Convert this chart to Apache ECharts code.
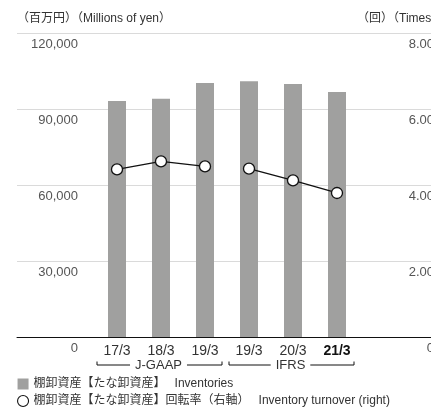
<!DOCTYPE html>
<html>
<head>
<meta charset="utf-8">
<script src="https://cdn.jsdelivr.net/npm/echarts@6/dist/echarts.min.js"></script>
<style>
  html, body { margin: 0; padding: 0; background: #fff; }
  #chart { width: 431px; height: 418px; }
</style>
</head>
<body>
<div id="chart"></div>
<script>
// data
var categories = ['17/3', '18/3', '19/3', '19/3', '20/3', '21/3'];
var inventories = [93200, 94000, 100300, 101000, 99900, 96700];   // 百万円
var turnover = [4.41, 4.62, 4.49, 4.43, 4.12, 3.79];               // 回
var standards = [
  { name: 'J-GAAP', from: 0, to: 2 },
  { name: 'IFRS', from: 3, to: 5 }
];
var leftTicks = { min: 0, max: 120000, interval: 30000 };
var rightTicks = { min: 0, max: 8, interval: 2 };

var barName = '棚卸資産【たな卸資産】';
var lineName = '棚卸資産【たな卸資産】回転率（右軸）';
var legendEn = {};
legendEn[barName] = 'Inventories';
legendEn[lineName] = 'Inventory turnover (right)';

var FONT = "'Liberation Sans', 'Noto Sans CJK JP', sans-serif";
var TOP = 33, HEIGHT = 304;

var chart = echarts.init(document.getElementById('chart'));

// split the turnover line where the accounting standard changes
var lineSeries = standards.map(function (g) {
  return {
    name: lineName,
    type: 'line',
    xAxisIndex: 0,
    yAxisIndex: 1,
    symbol: 'circle',
    symbolSize: 11,
    z: 5,
    lineStyle: { color: '#111', width: 1.3 },
    itemStyle: { color: '#fff', borderColor: '#111', borderWidth: 1.3 },
    data: turnover.map(function (v, i) { return (i >= g.from && i <= g.to) ? v : null; })
  };
});

var option = {
  animation: false,
  textStyle: { fontFamily: FONT },
  title: [
    { text: '（百万円）（Millions of yen）', left: 12, top: 8,
      textStyle: { fontSize: 12, fontWeight: 'normal', color: '#333', fontFamily: FONT } },
    { text: '（回）（Times）', left: 352, top: 8,
      textStyle: { fontSize: 12, fontWeight: 'normal', color: '#333', fontFamily: FONT } }
  ],
  grid: [
    { left: 95, width: 264, top: TOP, height: HEIGHT, outerBoundsMode: 'none' },
    // wider than the window: the right axis labels are cut off like in the source
    { left: 17, width: 478, top: TOP, height: HEIGHT, outerBoundsMode: 'none' }
  ],
  xAxis: [
    {
      type: 'category', gridIndex: 0, data: categories,
      axisLine: { show: false }, axisTick: { show: false },
      axisLabel: {
        interval: 0, fontSize: 14, color: '#333', margin: 7,
        formatter: function (v, i) { return i === categories.length - 1 ? '{b|' + v + '}' : v; },
        rich: { b: { fontSize: 14, fontWeight: 'bold', color: '#111' } }
      }
    },
    {
      type: 'value', gridIndex: 1, min: 0, max: 1,
      axisLine: { show: true, lineStyle: { color: '#111', width: 1 } },
      axisTick: { show: false }, axisLabel: { show: false }, splitLine: { show: false }
    }
  ],
  yAxis: [
    { type: 'value', gridIndex: 0, min: leftTicks.min, max: leftTicks.max, show: false },
    { type: 'value', gridIndex: 0, min: rightTicks.min, max: rightTicks.max, show: false },
    {
      type: 'value', gridIndex: 1, position: 'left',
      min: leftTicks.min, max: leftTicks.max, interval: leftTicks.interval,
      axisLine: { show: false }, axisTick: { show: false },
      splitLine: { lineStyle: { color: '#dadada', width: 1 } },
      axisLabel: {
        inside: true, margin: 61, align: 'right', verticalAlign: 'top',
        padding: [5, 0, 0, 0], fontSize: 13, color: '#555',
        formatter: function (v) { return v.toLocaleString('en-US'); }
      }
    },
    {
      type: 'value', gridIndex: 1, position: 'right',
      min: rightTicks.min, max: rightTicks.max, interval: rightTicks.interval,
      axisLine: { show: false }, axisTick: { show: false }, splitLine: { show: false },
      axisLabel: {
        inside: true, margin: 61, align: 'right', verticalAlign: 'top',
        padding: [5, 0, 0, 0], fontSize: 13, color: '#555',
        formatter: function (v) { return v === 0 ? '0' : v.toFixed(2); }
      }
    }
  ],
  legend: {
    orient: 'vertical', left: 17, top: 378, itemGap: 5, padding: 0,
    itemWidth: 11, itemHeight: 11,
    selectedMode: false,
    data: [
      { name: barName, icon: 'rect' },
      { name: lineName, icon: 'circle',
        itemStyle: { color: '#fff', borderColor: '#111', borderWidth: 1.1 } }
    ],
    formatter: function (name) { return '{j|' + name + '}{e|' + legendEn[name] + '}'; },
    textStyle: {
      fontSize: 12, color: '#333', fontFamily: FONT,
      rich: {
        j: { fontSize: 12, color: '#333', fontFamily: FONT },
        e: { fontSize: 12, color: '#333', fontFamily: FONT, padding: [0, 0, 0, 9] }
      }
    }
  },
  series: [
    {
      name: barName,
      type: 'bar',
      xAxisIndex: 0,
      yAxisIndex: 0,
      barWidth: 18,
      itemStyle: { color: '#a0a09f' },
      data: inventories
    }
  ].concat(lineSeries)
};

chart.setOption(option);

// accounting-standard brackets under the category labels
var bracketY = 365;
var graphics = [];
standards.forEach(function (g) {
  var x0 = chart.convertToPixel({ xAxisIndex: 0 }, g.from) - 20;
  var x1 = chart.convertToPixel({ xAxisIndex: 0 }, g.to) + 17;
  graphics.push({
    type: 'polyline', silent: true,
    shape: { points: [[x0, bracketY - 3.5], [x0, bracketY], [x1, bracketY], [x1, bracketY - 3.5]] },
    style: { stroke: '#111', lineWidth: 1, fill: null }
  });
  graphics.push({
    type: 'text', silent: true, z: 10,
    x: (x0 + x1) / 2 - 1, y: bracketY,
    style: {
      text: g.name, fontSize: 13, fill: '#333', fontFamily: FONT,
      align: 'center', verticalAlign: 'middle',
      backgroundColor: '#fff', padding: [0, 5]
    }
  });
});
chart.setOption({ graphic: graphics });
</script>
</body>
</html>
